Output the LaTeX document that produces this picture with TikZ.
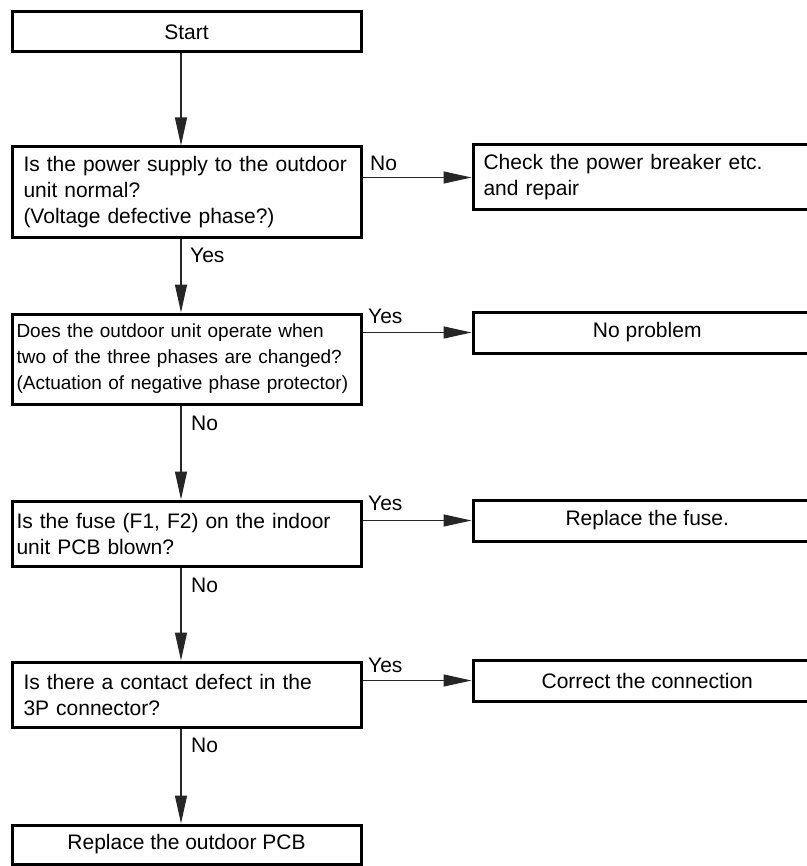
\documentclass[tikz,border=0pt]{standalone}
\usepackage{fontspec}
\setmainfont{Liberation Sans}
\usetikzlibrary{arrows.meta}
\newcommand{\bigf}{\fontsize{21pt}{26pt}\selectfont}
\newcommand{\smallf}{\fontsize{19pt}{26pt}\selectfont}
\begin{document}
\begin{tikzpicture}[x=1pt,y=-1pt,
  box/.style={draw, line width=3pt, inner sep=0pt, anchor=north west, minimum width=349pt, font=\bigf},
  rbox/.style={draw, line width=3pt, inner sep=0pt, anchor=north west, minimum width=348.5pt, font=\bigf},
  conn/.style={line width=1.2pt, draw=black!85, -{Triangle[length=28pt,width=12pt]}},
  lbl/.style={anchor=west, inner sep=0pt, font=\bigf}]
\useasboundingbox (0,0) rectangle (806,866);
\coordinate (spine) at (181,0);
% left column
\node[box, align=center, minimum height=40pt] (start) at (10.5,10.5) {Start};
\node[box, minimum height=91pt, inner xsep=11.5pt, text width=326pt, align=left] (q1) at (10.5,145.5)
  {Is the power supply to the outdoor\\unit normal?\\(Voltage defective phase?)};
\node[box, minimum height=90pt, inner xsep=4.5pt, text width=340pt, align=left, font=\smallf] (q2) at (10.5,312.5)
  {Does the outdoor unit operate when\\two of the three phases are changed?\\(Actuation of negative phase protector)};
\node[box, minimum height=65pt, inner xsep=4.5pt, text width=340pt, align=left] (q3) at (10.5,499.5)
  {Is the fuse (F1, F2) on the indoor\\unit PCB blown?};
\node[box, minimum height=65pt, inner xsep=11.5pt, text width=326pt, align=left] (q4) at (10.5,660.5)
  {Is there a contact defect in the\\3P connector?};
\node[box, align=center, minimum height=39pt] (fin) at (10.5,823.5) {Replace the outdoor PCB};
% right column
\node[rbox, minimum height=65pt, inner xsep=10.5pt, text width=327.5pt, align=left] (r1) at (471.5,143.5)
  {Check the power breaker etc.\\and repair};
\node[rbox, minimum height=41pt, align=center] (r2) at (471.5,310.5) {No problem};
\node[rbox, minimum height=41pt, align=center] (r3) at (471.5,498.5) {Replace the fuse.};
\node[rbox, minimum height=41pt, align=center] (r4) at (471.5,658.5) {Correct the connection};
% vertical connectors
\draw[conn] (start.south -| spine) -- (q1.north -| spine);
\draw[conn] (q1.south -| spine) -- (q2.north -| spine);
\draw[conn] (q2.south -| spine) -- (q3.north -| spine);
\draw[conn] (q3.south -| spine) -- (q4.north -| spine);
\draw[conn] (q4.south -| spine) -- (fin.north -| spine);
% horizontal connectors
\draw[conn] (q1.east |- r1.west) -- (r1.west);
\draw[conn] (q2.east |- r2.west) -- (r2.west);
\draw[conn] (q3.east |- r3.west) -- (r3.west);
\draw[conn] (q4.east |- r4.west) -- (r4.west);
% labels
\node[lbl] (l1) at (370,163) {No};
\node[lbl] (l2) at (190,255) {Yes};
\node[lbl] (l3) at (368,316) {Yes};
\node[lbl] (l4) at (191,423) {No};
\node[lbl] (l5) at (368,503) {Yes};
\node[lbl] (l6) at (191,585) {No};
\node[lbl] (l7) at (368,665) {Yes};
\node[lbl] (l8) at (191,745) {No};
\end{tikzpicture}
\end{document}
